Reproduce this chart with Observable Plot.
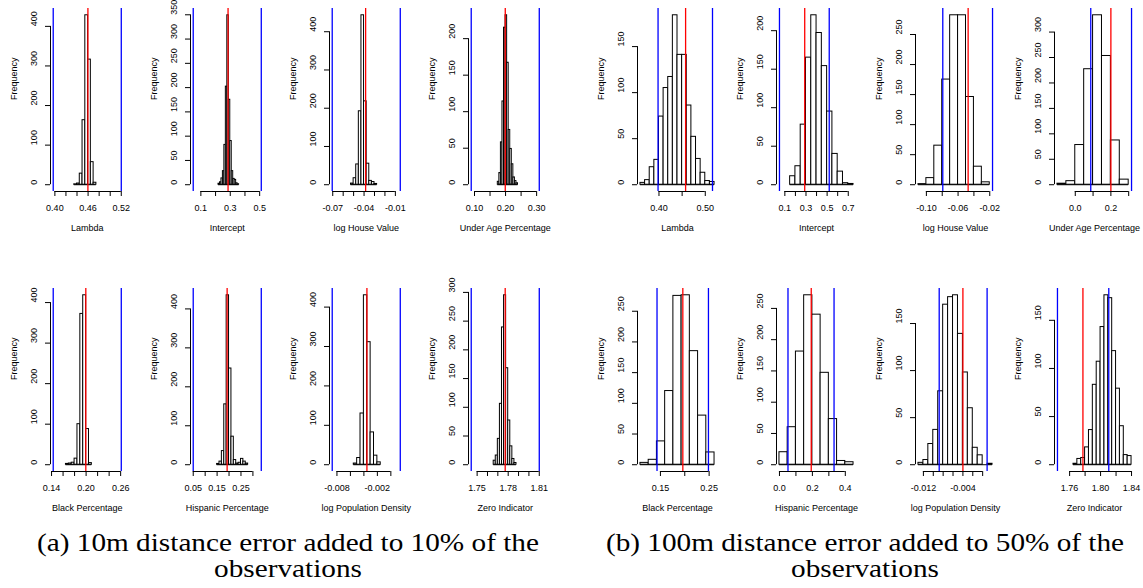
<!DOCTYPE html>
<html><head><meta charset="utf-8">
<script src="https://cdn.jsdelivr.net/npm/d3@7"></script>
<script src="https://cdn.jsdelivr.net/npm/@observablehq/plot@0.6"></script>
<style>
html,body{margin:0;padding:0;background:#fff;}
#fig{position:relative;width:1143px;height:588px;overflow:hidden;background:#fff;}
.panel{position:absolute;}
.panel svg{overflow:visible;max-width:none;}
.cap{position:absolute;font-family:"Liberation Serif","Times New Roman",serif;font-size:25px;color:#000;white-space:nowrap;transform:translate(-50%,-50%) scaleX(1.17);line-height:1;}
</style></head><body><div id="fig"></div>
<script>
// ---------- data ----------
const names = ["Lambda","Intercept","log House Value","Under Age Percentage","Black Percentage","Hispanic Percentage","log Population Density","Zero Indicator"];
const captions = [["(a) 10m distance error added to 10% of the","observations"],["(b) 100m distance error added to 50% of the","observations"]];

// group (a): 10m error
const aStart = [0.435, 0.22, -0.0525, 0.175, 0.165, 0.15, -0.0055, 1.766];
const aWidth = [0.005, 0.01, 0.0025, 0.005, 0.005, 0.01, 0.0005, 0.002];
const aCounts = [
  [1,3,28,163,428,316,57,5],
  [2,5,13,28,82,202,349,175,90,28,12,10,3,1],
  [3,17,53,192,443,218,55,10,7,2],
  [4,16,58,114,215,232,167,75,49,28,10,5,2],
  [2,3,5,15,100,372,418,88,4],
  [2,8,35,155,435,247,72,12,3,5,15,8,3],
  [3,17,130,430,311,82,23,6],
  [7,16,45,106,239,295,168,77,32,10,3]
];
const aRed = [0.4597, 0.285, -0.0385, 0.199, 0.1995, 0.192, -0.00355, 1.7771];
const aBlue = [[0.397,0.52],[0.048,0.511],[-0.0705,-0.0053],[0.0894,0.3085],[0.1429,0.2611],[0.05,0.335],[-0.0087,0.0014],[1.7443,1.81]];
const aXTicks = [
  [0.40,0.42,0.44,0.46,0.48,0.50,0.52],
  [0.1,0.2,0.3,0.4,0.5],
  [-0.07,-0.06,-0.05,-0.04,-0.03,-0.02,-0.01],
  [0.10,0.15,0.20,0.25,0.30],
  [0.14,0.16,0.18,0.20,0.22,0.24,0.26],
  [0.05,0.10,0.15,0.20,0.25,0.30],
  [-0.008,-0.006,-0.004,-0.002,0],
  [1.75,1.76,1.77,1.78,1.79,1.80,1.81]
];
const aXLabels = [
  ["0.40","","","0.46","","","0.52"],
  ["0.1","","0.3","","0.5"],
  ["-0.07","","","-0.04","","","-0.01"],
  ["0.10","","0.20","","0.30"],
  ["0.14","","","0.20","","","0.26"],
  ["0.05","","0.15","","0.25",""],
  ["-0.008","","","-0.002",""],
  ["1.75","","","1.78","","","1.81"]
];
const aYTicks = [
  [0,100,200,300,400],
  [0,50,100,150,200,250,300,350],
  [0,100,200,300,400],
  [0,50,100,150,200],
  [0,100,200,300,400],
  [0,100,200,300,400],
  [0,100,200,300,400],
  [0,50,100,150,200,250,300]
];

// group (b): 100m error
const bStart = [0.36, 0.15, -0.11, -0.1, 0.109, 0, -0.013, 1.765];
const bWidth = [0.01, 0.05, 0.01, 0.05, 0.0169, 0.05, 0.001, 0.005];
const bCounts = [
  [2,5,19,27,74,105,117,184,141,141,86,52,28,13,4,3],
  [11,24,78,165,220,197,154,95,40,17,2,1],
  [1,11,65,175,282,282,146,30,4],
  [2,7,78,227,333,253,87,10],
  [3,8,38,120,275,276,185,80,20],
  [20,60,181,271,240,147,73,6,4],
  [2,5,22,37,78,170,178,180,139,98,60,18,10,0,1],
  [1,6,7,18,36,83,107,143,176,173,118,79,40,10,9]
];
const bRed = [0.4575, 0.288, -0.0473, 0.2, 0.196, 0.193, -0.004, 1.7772];
const bBlue = [[0.398,0.5156],[0.049,0.52],[-0.0793,-0.0165],[0.087,0.316],[0.143,0.2486],[0.0518,0.3316],[-0.0088,0.0009],[1.7443,1.8106]];
const bXTicks = [
  [0.40,0.45,0.50],
  [0.1,0.2,0.3,0.4,0.5,0.6,0.7],
  [-0.10,-0.08,-0.06,-0.04,-0.02],
  [0.0,0.1,0.2,0.3],
  [0.15,0.20,0.25],
  [0.0,0.1,0.2,0.3,0.4],
  [-0.012,-0.010,-0.008,-0.006,-0.004,-0.002,0],
  [1.76,1.78,1.80,1.82,1.84]
];
const bXLabels = [
  ["0.40","","0.50"],
  ["0.1","","0.3","","0.5","","0.7"],
  ["-0.10","","-0.06","","-0.02"],
  ["0.0","","0.2",""],
  ["0.15","","0.25"],
  ["0.0","","0.2","","0.4"],
  ["-0.012","","","","-0.004","",""],
  ["1.76","","1.80","","1.84"]
];
const bYTicks = [
  [0,50,100,150],
  [0,50,100,150,200],
  [0,50,100,150,200,250],
  [0,50,100,150,200,250,300],
  [0,50,100,150,200,250],
  [0,50,100,150,200,250],
  [0,50,100,150],
  [0,50,100,150]
];

// ---------- layout ----------
const groups = [
  {start:aStart, width:aWidth, counts:aCounts, red:aRed, blue:aBlue, xt:aXTicks, xl:aXLabels, yt:aYTicks,
   cols:[50.4,189.6,328.8,468.0], w:73.5, cap:288},
  {start:bStart, width:bWidth, counts:bCounts, red:bRed, blue:bBlue, xt:bXTicks, xl:bXLabels, yt:bYTicks,
   cols:[636.5,775.8,915.1,1054.4], w:80, cap:865}
];
const rowTop = [8.3, 288.3];
const regionH = 183;
const ML = 46, MR = 20, MT = 4, MB = 46;
const FONT = "'Liberation Sans', Arial, Helvetica, sans-serif";
const fig = document.getElementById("fig");

function panel(g, i) {
  const left = g.cols[i % 4], top = rowTop[Math.floor(i / 4)], w = g.w;
  const start = g.start[i], bw = g.width[i], counts = g.counts[i];
  const bins = counts.map((c, k) => ({x1: start + k * bw, x2: start + (k + 1) * bw, c}));
  const e0 = bins[0].x1, e1 = bins[bins.length - 1].x2;
  const lo = Math.min(e0, g.blue[i][0]), hi = Math.max(e1, g.blue[i][1]);
  const pad = 0.04 * (hi - lo);
  const xd = [lo - pad, hi + pad];
  const M = d3.max(counts);
  const yd = [-0.04 * M, 1.04 * M];
  const xt = g.xt[i], xl = g.xl[i], yt = g.yt[i];
  const lab = new Map(xt.map((t, k) => [t, xl[k]]));
  const svg = Plot.plot({
    width: ML + w + MR, height: MT + regionH + MB,
    marginLeft: ML, marginRight: MR, marginTop: MT, marginBottom: MB,
    style: {background: "transparent", fontFamily: FONT, fontSize: "9px", overflow: "visible", color: "black"},
    x: {domain: xd, axis: "bottom", ticks: xt, tickSize: 5, tickPadding: 8, tickFormat: d => lab.get(d) ?? "", label: null},
    y: {domain: yd, axis: "left", ticks: yt, tickSize: 5, tickFormat: () => "", label: null},
    marks: [
      Plot.rect(bins, {x1: "x1", x2: "x2", y1: 0, y2: "c", fill: "white", stroke: "black", strokeWidth: 1}),
      Plot.ruleY([0], {x1: e0, x2: e1, stroke: "black", strokeWidth: 1}),
      Plot.ruleX([g.red[i]], {y1: yd[0], y2: yd[1], stroke: "#ff0000", strokeWidth: 1.3}),
      Plot.ruleX(g.blue[i], {y1: yd[0], y2: yd[1], stroke: "#0000ff", strokeWidth: 1.3}),
      Plot.ruleX([xd[0]], {y1: 0, y2: yt[yt.length - 1], stroke: "black", strokeWidth: 1}),
      Plot.ruleY([yd[0]], {x1: xt[0], x2: xt[xt.length - 1], stroke: "black", strokeWidth: 1}),
      Plot.text(yt, {y: d => d, text: d => String(d), frameAnchor: "left", dx: -16, rotate: -90, fontSize: 9, fill: "black"}),
      Plot.text(["Frequency"], {text: d => d, frameAnchor: "left", dx: -36, rotate: -90, fontSize: 9, fill: "black"}),
      Plot.text([names[i]], {text: d => d, frameAnchor: "bottom", dy: 39.5, fontSize: 9, fill: "black"})
    ]
  });
  const div = document.createElement("div");
  div.className = "panel";
  div.style.left = (left - ML) + "px";
  div.style.top = (top - MT) + "px";
  div.style.width = (ML + w + MR) + "px";
  div.appendChild(svg);
  fig.appendChild(div);
}

groups.forEach((g, gi) => {
  for (let i = 0; i < 8; i++) panel(g, i);
  captions[gi].forEach((line, li) => {
    const d = document.createElement("div");
    d.className = "cap";
    d.textContent = line;
    d.style.left = g.cap + "px";
    d.style.top = (542 + li * 26) + "px";
    fig.appendChild(d);
  });
});
</script>
</body></html>
